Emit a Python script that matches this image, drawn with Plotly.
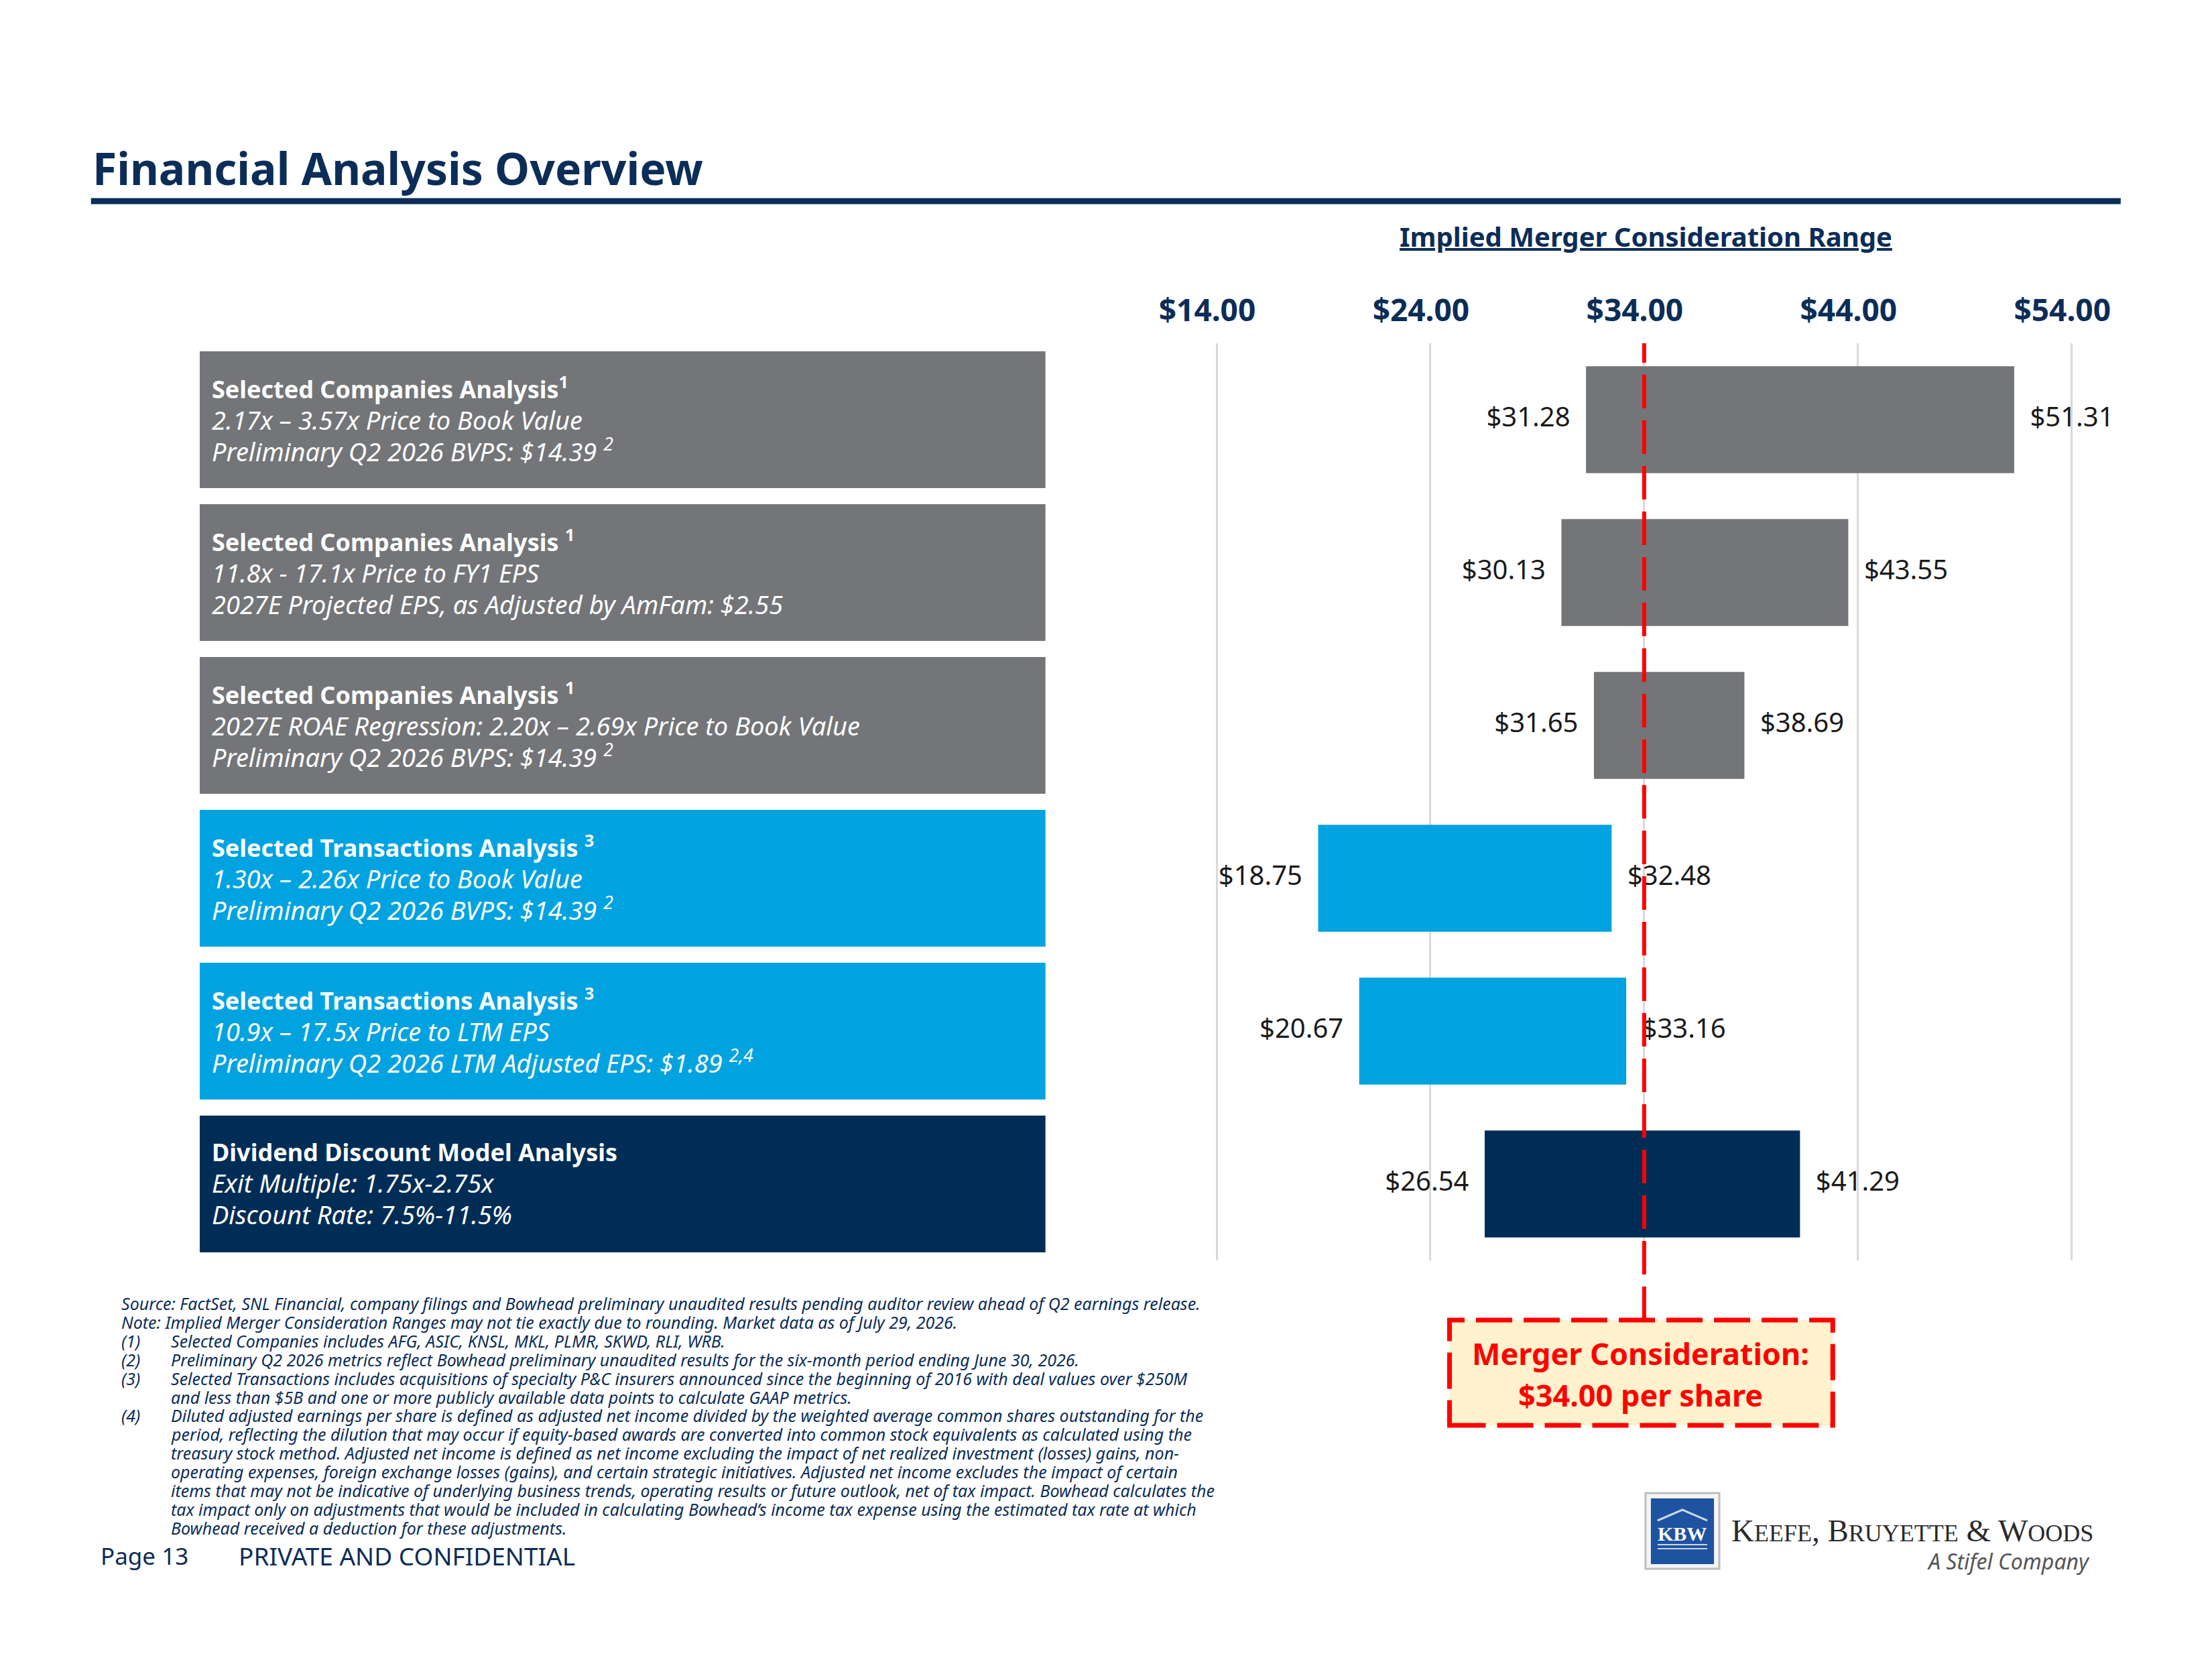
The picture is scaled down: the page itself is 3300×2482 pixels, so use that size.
import plotly.graph_objects as go

# ---------------- data ----------------
categories = [
    "Selected Companies Analysis - P/BV",
    "Selected Companies Analysis - P/EPS",
    "Selected Companies Analysis - ROAE Regression",
    "Selected Transactions Analysis - P/BV",
    "Selected Transactions Analysis - P/EPS",
    "Dividend Discount Model Analysis",
]
low_values = [31.28, 30.13, 31.65, 18.75, 20.67, 26.54]
high_values = [51.31, 43.55, 38.69, 32.48, 33.16, 41.29]
method_groups = ["companies", "companies", "companies", "transactions", "transactions", "ddm"]

box_titles = [
    "Selected Companies Analysis<sup>1</sup>",
    "Selected Companies Analysis <sup>1</sup>",
    "Selected Companies Analysis <sup>1</sup>",
    "Selected Transactions Analysis <sup>3</sup>",
    "Selected Transactions Analysis <sup>3</sup>",
    "Dividend Discount Model Analysis",
]
box_line2 = [
    "2.17x – 3.57x Price to Book Value",
    "11.8x - 17.1x Price to FY1 EPS",
    "2027E ROAE Regression: 2.20x – 2.69x Price to Book Value",
    "1.30x – 2.26x Price to Book Value",
    "10.9x – 17.5x Price to LTM EPS",
    "Exit Multiple: 1.75x-2.75x",
]
box_line3 = [
    "Preliminary Q2 2026 BVPS: $14.39 <sup>2</sup>",
    "2027E Projected EPS, as Adjusted by AmFam: $2.55",
    "Preliminary Q2 2026 BVPS: $14.39 <sup>2</sup>",
    "Preliminary Q2 2026 BVPS: $14.39 <sup>2</sup>",
    "Preliminary Q2 2026 LTM Adjusted EPS: $1.89 <sup>2,4</sup>",
    "Discount Rate: 7.5%-11.5%",
]

tick_values = [14, 24, 34, 44, 54]
tick_labels = ["$14.00", "$24.00", "$34.00", "$44.00", "$54.00"]
merger_consideration = 34.00

title_text = "Financial Analysis Overview"
subtitle_text = "Implied Merger Consideration Range"
callout_lines = ["Merger Consideration:", "$34.00 per share"]

footnote_markers = ["", "", "(1)", "(2)", "(3)", "", "(4)", "", "", "", "", "", ""]
footnote_texts = [
    "Source: FactSet, SNL Financial, company filings and Bowhead preliminary unaudited results pending auditor review ahead of Q2 earnings release.",
    "Note: Implied Merger Consideration Ranges may not tie exactly due to rounding. Market data as of July 29, 2026.",
    "Selected Companies includes AFG, ASIC, KNSL, MKL, PLMR, SKWD, RLI, WRB.",
    "Preliminary Q2 2026 metrics reflect Bowhead preliminary unaudited results for the six-month period ending June 30, 2026.",
    "Selected Transactions includes acquisitions of specialty P&C insurers announced since the beginning of 2016 with deal values over $250M",
    "and less than $5B and one or more publicly available data points to calculate GAAP metrics.",
    "Diluted adjusted earnings per share is defined as adjusted net income divided by the weighted average common shares outstanding for the",
    "period, reflecting the dilution that may occur if equity-based awards are converted into common stock equivalents as calculated using the",
    "treasury stock method. Adjusted net income is defined as net income excluding the impact of net realized investment (losses) gains, non-",
    "operating expenses, foreign exchange losses (gains), and certain strategic initiatives. Adjusted net income excludes the impact of certain",
    "items that may not be indicative of underlying business trends, operating results or future outlook, net of tax impact. Bowhead calculates the",
    "tax impact only on adjustments that would be included in calculating Bowhead’s income tax expense using the estimated tax rate at which",
    "Bowhead received a deduction for these adjustments.",
]
footer_page = "Page 13"
footer_conf = "PRIVATE AND CONFIDENTIAL"

# ---------------- styles ----------------
W, H = 3300, 2482
NAVY = "#0B2D58"
GROUP_COLORS = {"companies": "#737578", "transactions": "#00A3E0", "ddm": "#002D56"}
RED = "#FF0000"
SANS = "Noto Sans, sans-serif"
SERIF = "Liberation Serif, serif"

# horizontal calibration of the rendered page (measured offset / compression)
X_OFF, X_SCALE = 24.4, 0.992


def px(x):
    return ((x - X_OFF) / X_SCALE) / W


def py(y):
    return 1 - y / H


bar_colors = [GROUP_COLORS[g] for g in method_groups]

fig = go.Figure()

fig.add_trace(go.Bar(
    y=categories,
    x=[h - l for l, h in zip(low_values, high_values)],
    base=low_values,
    orientation="h",
    marker=dict(color=bar_colors, line=dict(width=0)),
    width=0.7,
    hoverinfo="skip",
))

for vals, pos in ((low_values, "middle left"), (high_values, "middle right")):
    fig.add_trace(go.Scatter(
        y=categories, x=vals, mode="markers+text",
        text=[f"${v:.2f}" for v in vals],
        textposition=pos,
        marker=dict(size=36, opacity=0),
        textfont=dict(family=SANS, size=40, color="#1a1a1a"),
        hoverinfo="skip",
    ))

shapes = []
annotations = []

# title and rule
annotations.append(dict(
    x=px(138), y=py(250), xref="paper", yref="paper", xanchor="left", yanchor="middle",
    text=f"<b>{title_text}</b>", showarrow=False,
    font=dict(family=SANS, size=66, color=NAVY),
))
shapes.append(dict(type="line", xref="paper", yref="paper",
                   x0=px(138), x1=px(3162), y0=py(300), y1=py(300),
                   line=dict(color=NAVY, width=9)))

annotations.append(dict(
    x=px(2455), y=py(352), xref="paper", yref="paper", xanchor="center", yanchor="middle",
    text=f"<b><u>{subtitle_text}</u></b>", showarrow=False,
    font=dict(family=SANS, size=40, color=NAVY),
))

# left description boxes
for i, cat in enumerate(categories):
    shapes.append(dict(type="rect", xref="paper", yref="y",
                       x0=px(300), x1=px(1560), y0=i - 0.447, y1=i + 0.447,
                       fillcolor=GROUP_COLORS[method_groups[i]], line=dict(width=0),
                       layer="below"))
    annotations.append(dict(
        x=px(316), y=cat, xref="paper", yref="y", xanchor="left", yanchor="middle",
        align="left", showarrow=False,
        text=(f"<b>{box_titles[i]}</b><br>"
              f"<span style='font-size:38px'><i>{box_line2[i]}</i></span><br>"
              f"<span style='font-size:38px'><i>{box_line3[i]}</i></span>"),
        font=dict(family=SANS, size=36, color="white"),
    ))

# merger consideration line
shapes.append(dict(type="line", xref="x", yref="paper",
                   x0=merger_consideration, x1=merger_consideration,
                   y0=py(1969), y1=py(512),
                   line=dict(color=RED, width=6, dash="50px,18px"), layer="above"))

# callout box
shapes.append(dict(type="rect", xref="paper", yref="paper",
                   x0=px(2162), x1=px(2733), y0=py(2126), y1=py(1969),
                   fillcolor="#FFF2CC", line=dict(color=RED, width=7, dash="54px,17px")))
for txt, yc in zip(callout_lines, (2018, 2080)):
    annotations.append(dict(
        x=px(2447), y=py(yc), xref="paper", yref="paper", xanchor="center", yanchor="middle",
        text=f"<b>{txt}</b>", showarrow=False,
        font=dict(family=SANS, size=45, color=RED),
    ))

# footnotes
for k, (m, t) in enumerate(zip(footnote_markers, footnote_texts)):
    yc = 1944 + k * 27.9
    if m:
        annotations.append(dict(
            x=px(181), y=py(yc), xref="paper", yref="paper", xanchor="left", yanchor="middle",
            text=f"<i>{m}</i>", showarrow=False,
            font=dict(family=SANS, size=25, color=NAVY)))
    xs = 181 if k < 2 else 255
    annotations.append(dict(
        x=px(xs), y=py(yc), xref="paper", yref="paper", xanchor="left", yanchor="middle",
        text=f"<i>{t}</i>", showarrow=False,
        font=dict(family=SANS, size=25, color=NAVY)))

# footer
annotations.append(dict(
    x=px(150), y=py(2320), xref="paper", yref="paper", xanchor="left", yanchor="middle",
    text=footer_page, showarrow=False, font=dict(family=SANS, size=35, color=NAVY)))
annotations.append(dict(
    x=px(356), y=py(2320), xref="paper", yref="paper", xanchor="left", yanchor="middle",
    text=footer_conf, showarrow=False, font=dict(family=SANS, size=37, color=NAVY)))

# logo
shapes.append(dict(type="rect", xref="paper", yref="paper",
                   x0=px(2454), x1=px(2564), y0=py(2340), y1=py(2227),
                   fillcolor="#F4F4F4", line=dict(color="#BDBDBD", width=3)))
shapes.append(dict(type="rect", xref="paper", yref="paper",
                   x0=px(2462), x1=px(2556), y0=py(2333), y1=py(2235),
                   fillcolor="#1D53A0", line=dict(width=0)))
shapes.append(dict(type="path", xref="paper", yref="paper",
                   path=f"M {px(2472)} {py(2268)} L {px(2509)} {py(2252)} L {px(2546)} {py(2268)}",
                   line=dict(color="#C9D6EA", width=3)))
for yy in (2304, 2310):
    shapes.append(dict(type="line", xref="paper", yref="paper",
                       x0=px(2472), x1=px(2546), y0=py(yy), y1=py(yy),
                       line=dict(color="#C9D6EA", width=2)))
annotations.append(dict(
    x=px(2509), y=py(2287), xref="paper", yref="paper", xanchor="center", yanchor="middle",
    text="<b>KBW</b>", showarrow=False,
    font=dict(family=SERIF, size=30, color="white")))
sc = "font-size:36px"
annotations.append(dict(
    x=px(2580), y=py(2283), xref="paper", yref="paper", xanchor="left", yanchor="middle",
    text=(f"K<span style='{sc}'>EEFE</span>, B<span style='{sc}'>RUYETTE</span> "
          f"&amp; W<span style='{sc}'>OODS</span>"),
    showarrow=False, font=dict(family=SERIF, size=47, color="#2b2b2b")))
annotations.append(dict(
    x=px(3118), y=py(2328), xref="paper", yref="paper", xanchor="right", yanchor="middle",
    text="<i>A Stifel Company</i>", showarrow=False,
    font=dict(family=SANS, size=32, color="#555555")))

fig.update_layout(
    width=W, height=H, autosize=False,
    margin=dict(l=0, r=0, t=0, b=0, pad=0),
    paper_bgcolor="white", plot_bgcolor="white",
    showlegend=False,
    shapes=shapes, annotations=annotations,
    xaxis=dict(
        range=[12, 56], domain=[px(1751.3), px(3152.7)],
        side="top", tickvals=tick_values, ticktext=tick_labels,
        showgrid=True, gridcolor="#D9D9D9", gridwidth=3,
        zeroline=False, showline=False,
        ticks="outside", ticklen=14, tickcolor="rgba(0,0,0,0)",
        ticklabelshift=-14,
        tickfont=dict(family=SANS, size=46, color=NAVY, weight="bold"),
        fixedrange=True,
    ),
    yaxis=dict(
        domain=[py(1880), py(512)],
        categoryorder="array", categoryarray=categories,
        autorange="reversed", showticklabels=False, showgrid=False,
        zeroline=False, ticks="", fixedrange=True,
    ),
)

fig.write_html("out.html", config={"displayModeBar": False, "responsive": False},
               post_script="document.body.style.margin='0';document.body.style.overflow='hidden';")
